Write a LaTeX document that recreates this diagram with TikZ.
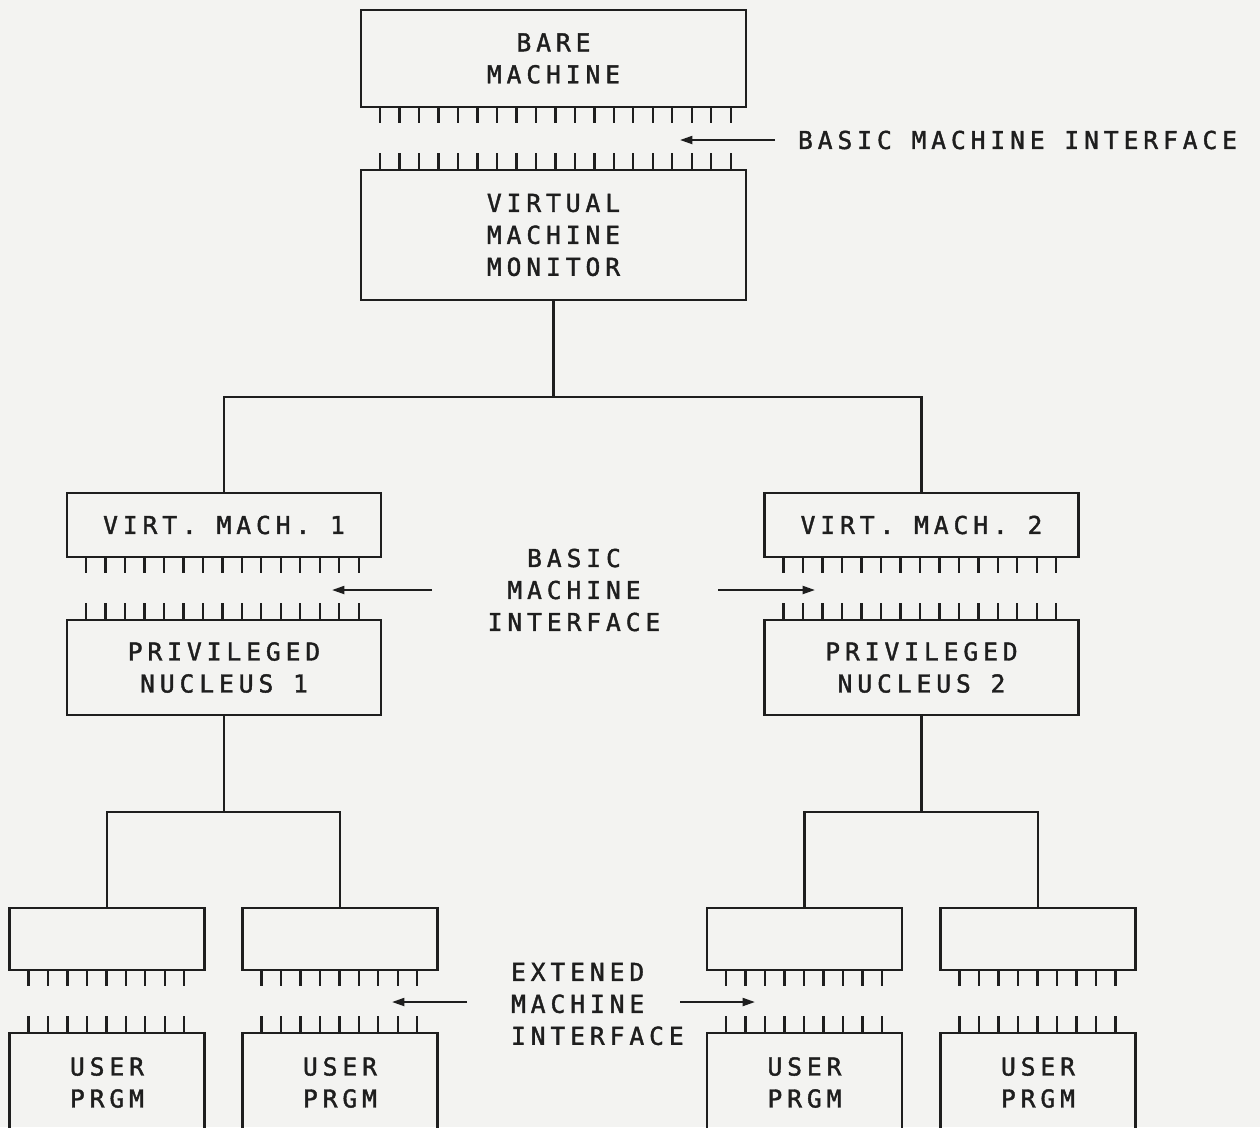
\documentclass[tikz,border=0pt]{standalone}
\usepackage{fontspec}
\newfontfamily\dotfont[LetterSpace=20, FakeBold=1.6]{DejaVu Sans Mono}
\usetikzlibrary{arrows.meta}
\definecolor{paper}{RGB}{243,243,241}
\definecolor{ink}{RGB}{30,30,30}
\newcommand{\boxfont}{\dotfont\fontsize{14}{18.2}\selectfont}
% pins under / over a box
\newcommand{\pinsdown}[2]{\foreach \k in {1,...,#2} \draw ([xshift={0.4cm+(\k-1)*0.39cm}]#1.south west) -- ++(0,-0.3cm);}
\newcommand{\pinsup}[2]{\foreach \k in {1,...,#2} \draw ([xshift={0.4cm+(\k-1)*0.39cm}]#1.north west) -- ++(0,0.32cm);}
\begin{document}
\begin{tikzpicture} [x = 0.02cm, y = -0.02cm, line width = 1.2pt, ink,
	box/.style = {draw, rectangle, inner sep = 0, align = center, font = \boxfont},
	small/.style = {box, minimum width = 3.9cm, minimum height = 1.24cm},
	user/.style = {box, minimum width = 3.9cm, minimum height = 1.98cm},
	lbl/.style = {inner sep = 0, font = \boxfont},
	iface/.style = {-{Triangle[length = 7pt, width = 4.5pt]}}]
	\fill [paper] (0,0) rectangle (1260,1127);
	\useasboundingbox (0,0) rectangle (1260,1127);
	\clip (0,0) rectangle (1260,1127);
	\node (bare) [box, minimum width = 7.7cm, minimum height = 1.94cm] at (553.5,58.5) {BARE\\MACHINE};
	\node (vmm) [box, minimum width = 7.7cm, minimum height = 2.6cm] at (553.5,235) {VIRTUAL\\MACHINE\\MONITOR};
	\pinsdown{bare}{19}
	\pinsup{vmm}{19}
	\node (vm1) [box, minimum width = 6.28cm, minimum height = 1.28cm] at (224,525) {VIRT. MACH. 1};
	\node (vm2) [box, minimum width = 6.28cm, minimum height = 1.28cm] at (921.5,525) {VIRT. MACH. 2};
	\node (pn1) [box, minimum width = 6.28cm, minimum height = 1.9cm] at (224,667.5) {PRIVILEGED\\NUCLEUS 1};
	\node (pn2) [box, minimum width = 6.28cm, minimum height = 1.9cm] at (921.5,667.5) {PRIVILEGED\\NUCLEUS 2};
	\pinsdown{vm1}{15}
	\pinsdown{vm2}{15}
	\pinsup{pn1}{15}
	\pinsup{pn2}{15}
	\node (s1) [small] at (107,939) {};
	\node (s2) [small] at (340,939) {};
	\node (s3) [small] at (804.5,939) {};
	\node (s4) [small] at (1038,939) {};
	\node (u1) [user] at (107,1082.5) {USER\\PRGM};
	\node (u2) [user] at (340,1082.5) {USER\\PRGM};
	\node (u3) [user] at (804.5,1082.5) {USER\\PRGM};
	\node (u4) [user] at (1038,1082.5) {USER\\PRGM};
	\foreach \n in {s1,s2,s3,s4} {\pinsdown{\n}{9}}
	\foreach \n in {u1,u2,u3,u4} {\pinsup{\n}{9}}
	% tree
	\coordinate (hub) at (553.5,397);
	\coordinate (hubL) at (224,812);
	\coordinate (hubR) at (921.5,812);
	\draw (vmm.south) -- (hub);
	\draw (vm1.north) |- (hub) -| (vm2.north);
	\draw (pn1.south) -- (hubL);
	\draw (s1.north) |- (hubL) -| (s2.north);
	\draw (pn2.south) -- (hubR);
	\draw (s3.north) |- (hubR) -| (s4.north);
	% interfaces
	\node (bmi) [lbl, anchor = west] at (797,140) {BASIC MACHINE INTERFACE};
	\node (bmi2) [lbl, align = center] at (574,590) {BASIC\\MACHINE\\INTERFACE};
	\node (emi) [lbl, align = left, anchor = west] at (510,1004) {EXTENED\\MACHINE\\INTERFACE};
	\coordinate (a0) at (775,140);
	\coordinate (b0) at (680,140);
	\coordinate (a1) at (432,590);
	\coordinate (b1) at (332,590);
	\coordinate (a2) at (718,590);
	\coordinate (b2) at (815,590);
	\coordinate (a3) at (467,1002);
	\coordinate (b3) at (392,1002);
	\coordinate (a4) at (680,1002);
	\coordinate (b4) at (755,1002);
	\foreach \i in {0,...,4} {\draw [iface] (a\i) -- (b\i);}
\end{tikzpicture}
\end{document}
